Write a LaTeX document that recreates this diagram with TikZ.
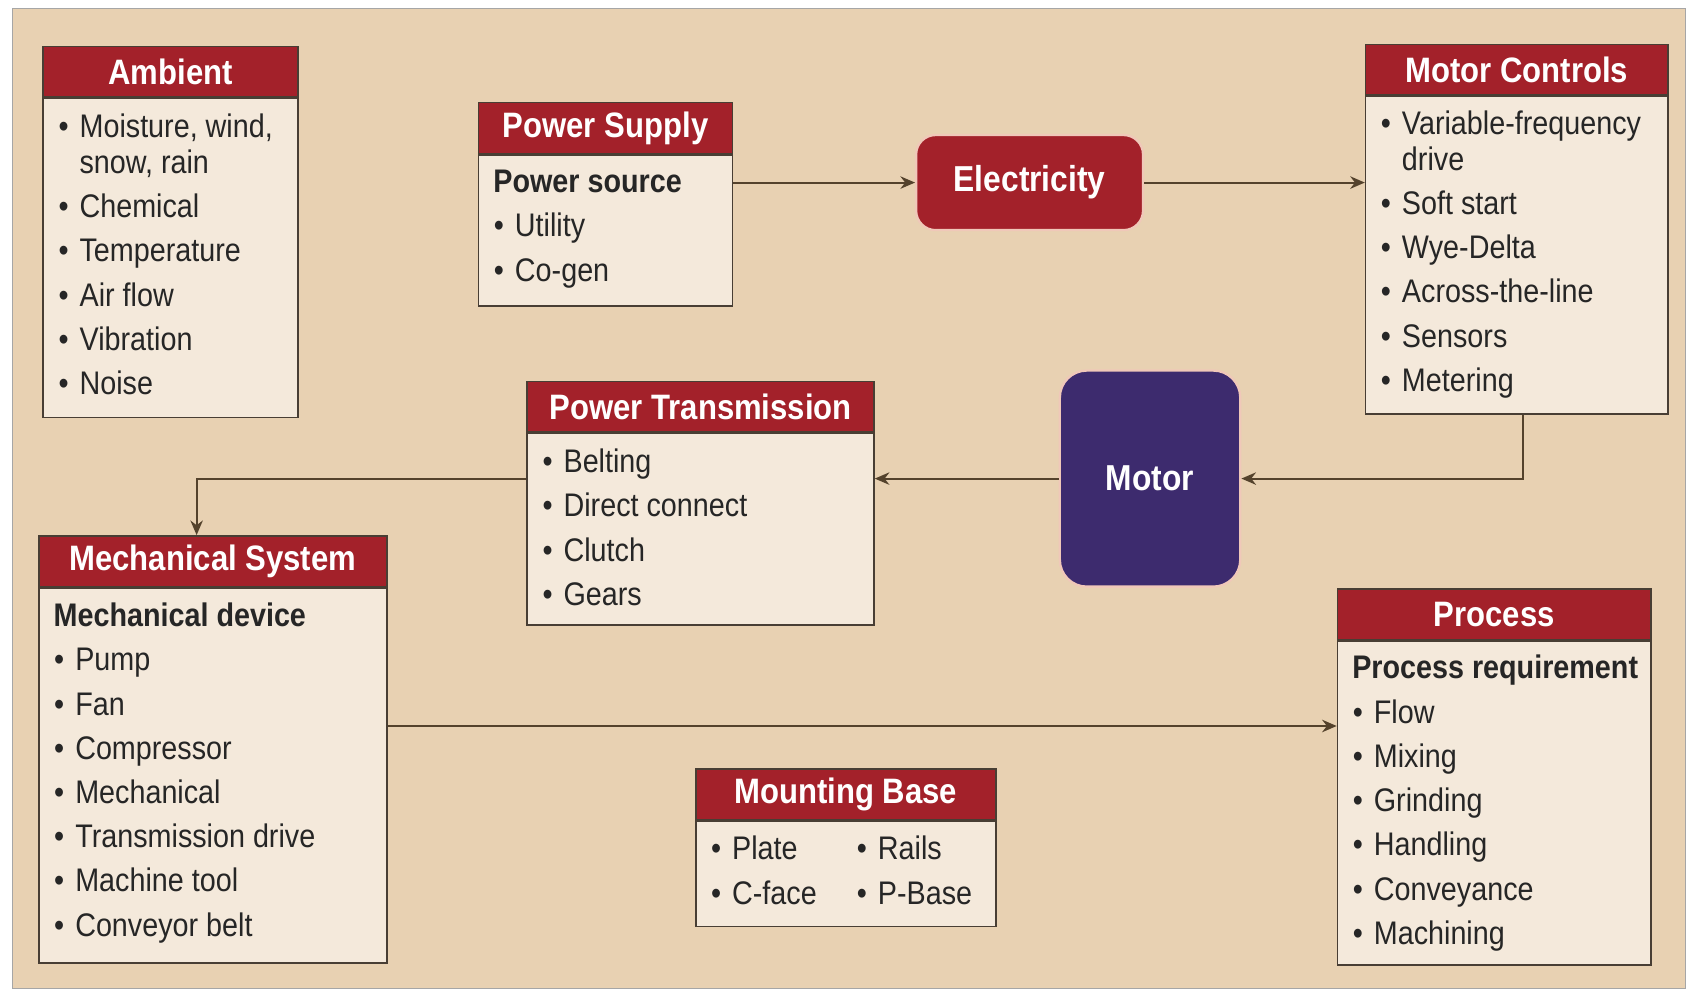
\documentclass[tikz,border=0pt]{standalone}
\usepackage{fontspec}
\setmainfont{Liberation Sans}[FakeStretch=0.88]
\usetikzlibrary{arrows.meta,positioning,calc}
\definecolor{hatter}{RGB}{232,209,178}
\definecolor{krem}{RGB}{244,233,219}
\definecolor{piros}{RGB}{163,33,42}
\definecolor{lila}{RGB}{61,43,110}
\definecolor{keret}{RGB}{72,62,52}
\definecolor{vonal}{RGB}{84,66,44}
\definecolor{halo}{RGB}{240,200,185}
\newcommand{\itm}{\hspace*{0.3pt}\makebox[11.1pt][l]{\textbullet}}
\tikzset{
  fej/.style={draw=keret,fill=piros,line width=0.8pt,minimum height=0.94cm,inner sep=0pt,
    text=white,font=\bfseries\fontsize{18.6}{20}\selectfont},
  test/.style={draw=keret,fill=krem,line width=0.8pt,inner sep=0pt},
  lista/.style={anchor=north west,inner sep=0pt,align=left,text=black!85,
    font=\fontsize{17.2}{23.3}\selectfont},
  kerek/.style={draw=halo,line width=1.2pt,inner sep=0pt,text=white,
    font=\bfseries\fontsize{19}{21}\selectfont},
  nyil/.style={draw=vonal,line width=1.1pt,-{Stealth[length=2.7mm,width=2.3mm]}},
}

\begin{document}
\begin{tikzpicture}
  \useasboundingbox (0,0) rectangle (31.36,18.30);
  \fill[hatter,draw=gray!70] (0.22,0) rectangle (31.20,18.14);

  % Ambient
  \node[fej,minimum width=4.72cm] (ambh) at (3.16,16.97) {Ambient};
  \node[test,minimum width=4.72cm,minimum height=5.90cm,below=0pt of ambh] (amb) {};
  \node[lista] (ambl) at ($(amb.north west)+(0.28,-0.29)$)
    {\itm Moisture, wind,\\[-4.5pt]\hspace*{11.4pt}snow, rain\\ \itm Chemical\\ \itm Temperature\\
     \itm Air flow\\ \itm Vibration\\ \itm Noise};

  % Power Supply
  \node[fej,minimum width=4.70cm] (psh) at (11.21,15.93) {Power Supply};
  \node[test,minimum width=4.70cm,minimum height=2.80cm,below=0pt of psh] (ps) {};
  \node[lista] (psl) at ($(ps.north west)+(0.28,-0.29)$)
    {\textbf{Power source}\\ \itm Utility\\ \itm Co-gen};

  % Electricity
  \node[kerek,fill=piros,rounded corners=0.36cm,minimum width=4.20cm,minimum height=1.76cm]
    (elec) at (19.06,14.92) {Electricity};

  % Motor Controls
  \node[fej,minimum width=5.60cm] (mch) at (28.08,17.01) {Motor Controls};
  \node[test,minimum width=5.60cm,minimum height=5.88cm,below=0pt of mch] (mc) {};
  \node[lista] (mcl) at ($(mc.north west)+(0.28,-0.27)$)
    {\itm Variable-frequency\\[-4.5pt]\hspace*{11.4pt}drive\\ \itm Soft start\\ \itm Wye-Delta\\
     \itm Across-the-line\\ \itm Sensors\\ \itm Metering};

  % Motor
  \node[kerek,fill=lila,rounded corners=0.5cm,minimum width=3.34cm,minimum height=4.0cm]
    (motor) at (21.29,9.44) {Motor};

  % Power Transmission
  \node[fej,minimum width=6.42cm] (pth) at (12.97,10.77) {Power Transmission};
  \node[test,minimum width=6.42cm,minimum height=3.54cm,below=0pt of pth] (pt) {};
  \node[lista] (ptl) at ($(pt.north west)+(0.28,-0.29)$)
    {\itm Belting\\ \itm Direct connect\\ \itm Clutch\\ \itm Gears};

  % Mechanical System
  \node[fej,minimum width=6.44cm] (mechh) at (3.94,7.91) {Mechanical System};
  \node[test,minimum width=6.44cm,minimum height=6.94cm,below=0pt of mechh] (mech) {};
  \node[lista] (mechl) at ($(mech.north west)+(0.28,-0.28)$)
    {\textbf{Mechanical device}\\ \itm Pump\\ \itm Fan\\ \itm Compressor\\ \itm Mechanical\\
     \itm Transmission drive\\ \itm Machine tool\\ \itm Conveyor belt};

  % Mounting Base
  \node[fej,minimum width=5.56cm] (mbh) at (15.66,3.59) {Mounting Base};
  \node[test,minimum width=5.56cm,minimum height=1.94cm,below=0pt of mbh] (mb) {};
  \node[lista] (mbl) at ($(mb.north west)+(0.28,-0.28)$) {\itm Plate\\ \itm C-face};
  \node[lista] (mbr) at ($(mbl.north west)+(2.70,0)$) {\itm Rails\\ \itm P-Base};

  % Process
  \node[fej,minimum width=5.80cm] (proch) at (27.66,6.93) {Process};
  \node[test,minimum width=5.80cm,minimum height=6.00cm,below=0pt of proch] (proc) {};
  \node[lista] (procl) at ($(proc.north west)+(0.28,-0.27)$)
    {\textbf{Process requirement}\\ \itm Flow\\ \itm Mixing\\ \itm Grinding\\ \itm Handling\\
     \itm Conveyance\\ \itm Machining};

  % connectors
  \coordinate (m2p) at (0,4.86);
  \draw[nyil] (ps.east |- elec.west) -- (elec.west);
  \draw[nyil] (elec.east) -- (mc.west |- elec.east);
  \draw[nyil] ([xshift=0.12cm]mc.south) |- (motor.east);
  \draw[nyil] (motor.west) -- (pt.east |- motor.west);
  \draw[nyil] (pt.west |- motor.west) -| ([xshift=-0.3cm]mechh.north);
  \draw[nyil] (mech.east |- m2p) -- (proc.west |- m2p);
\end{tikzpicture}
\end{document}
